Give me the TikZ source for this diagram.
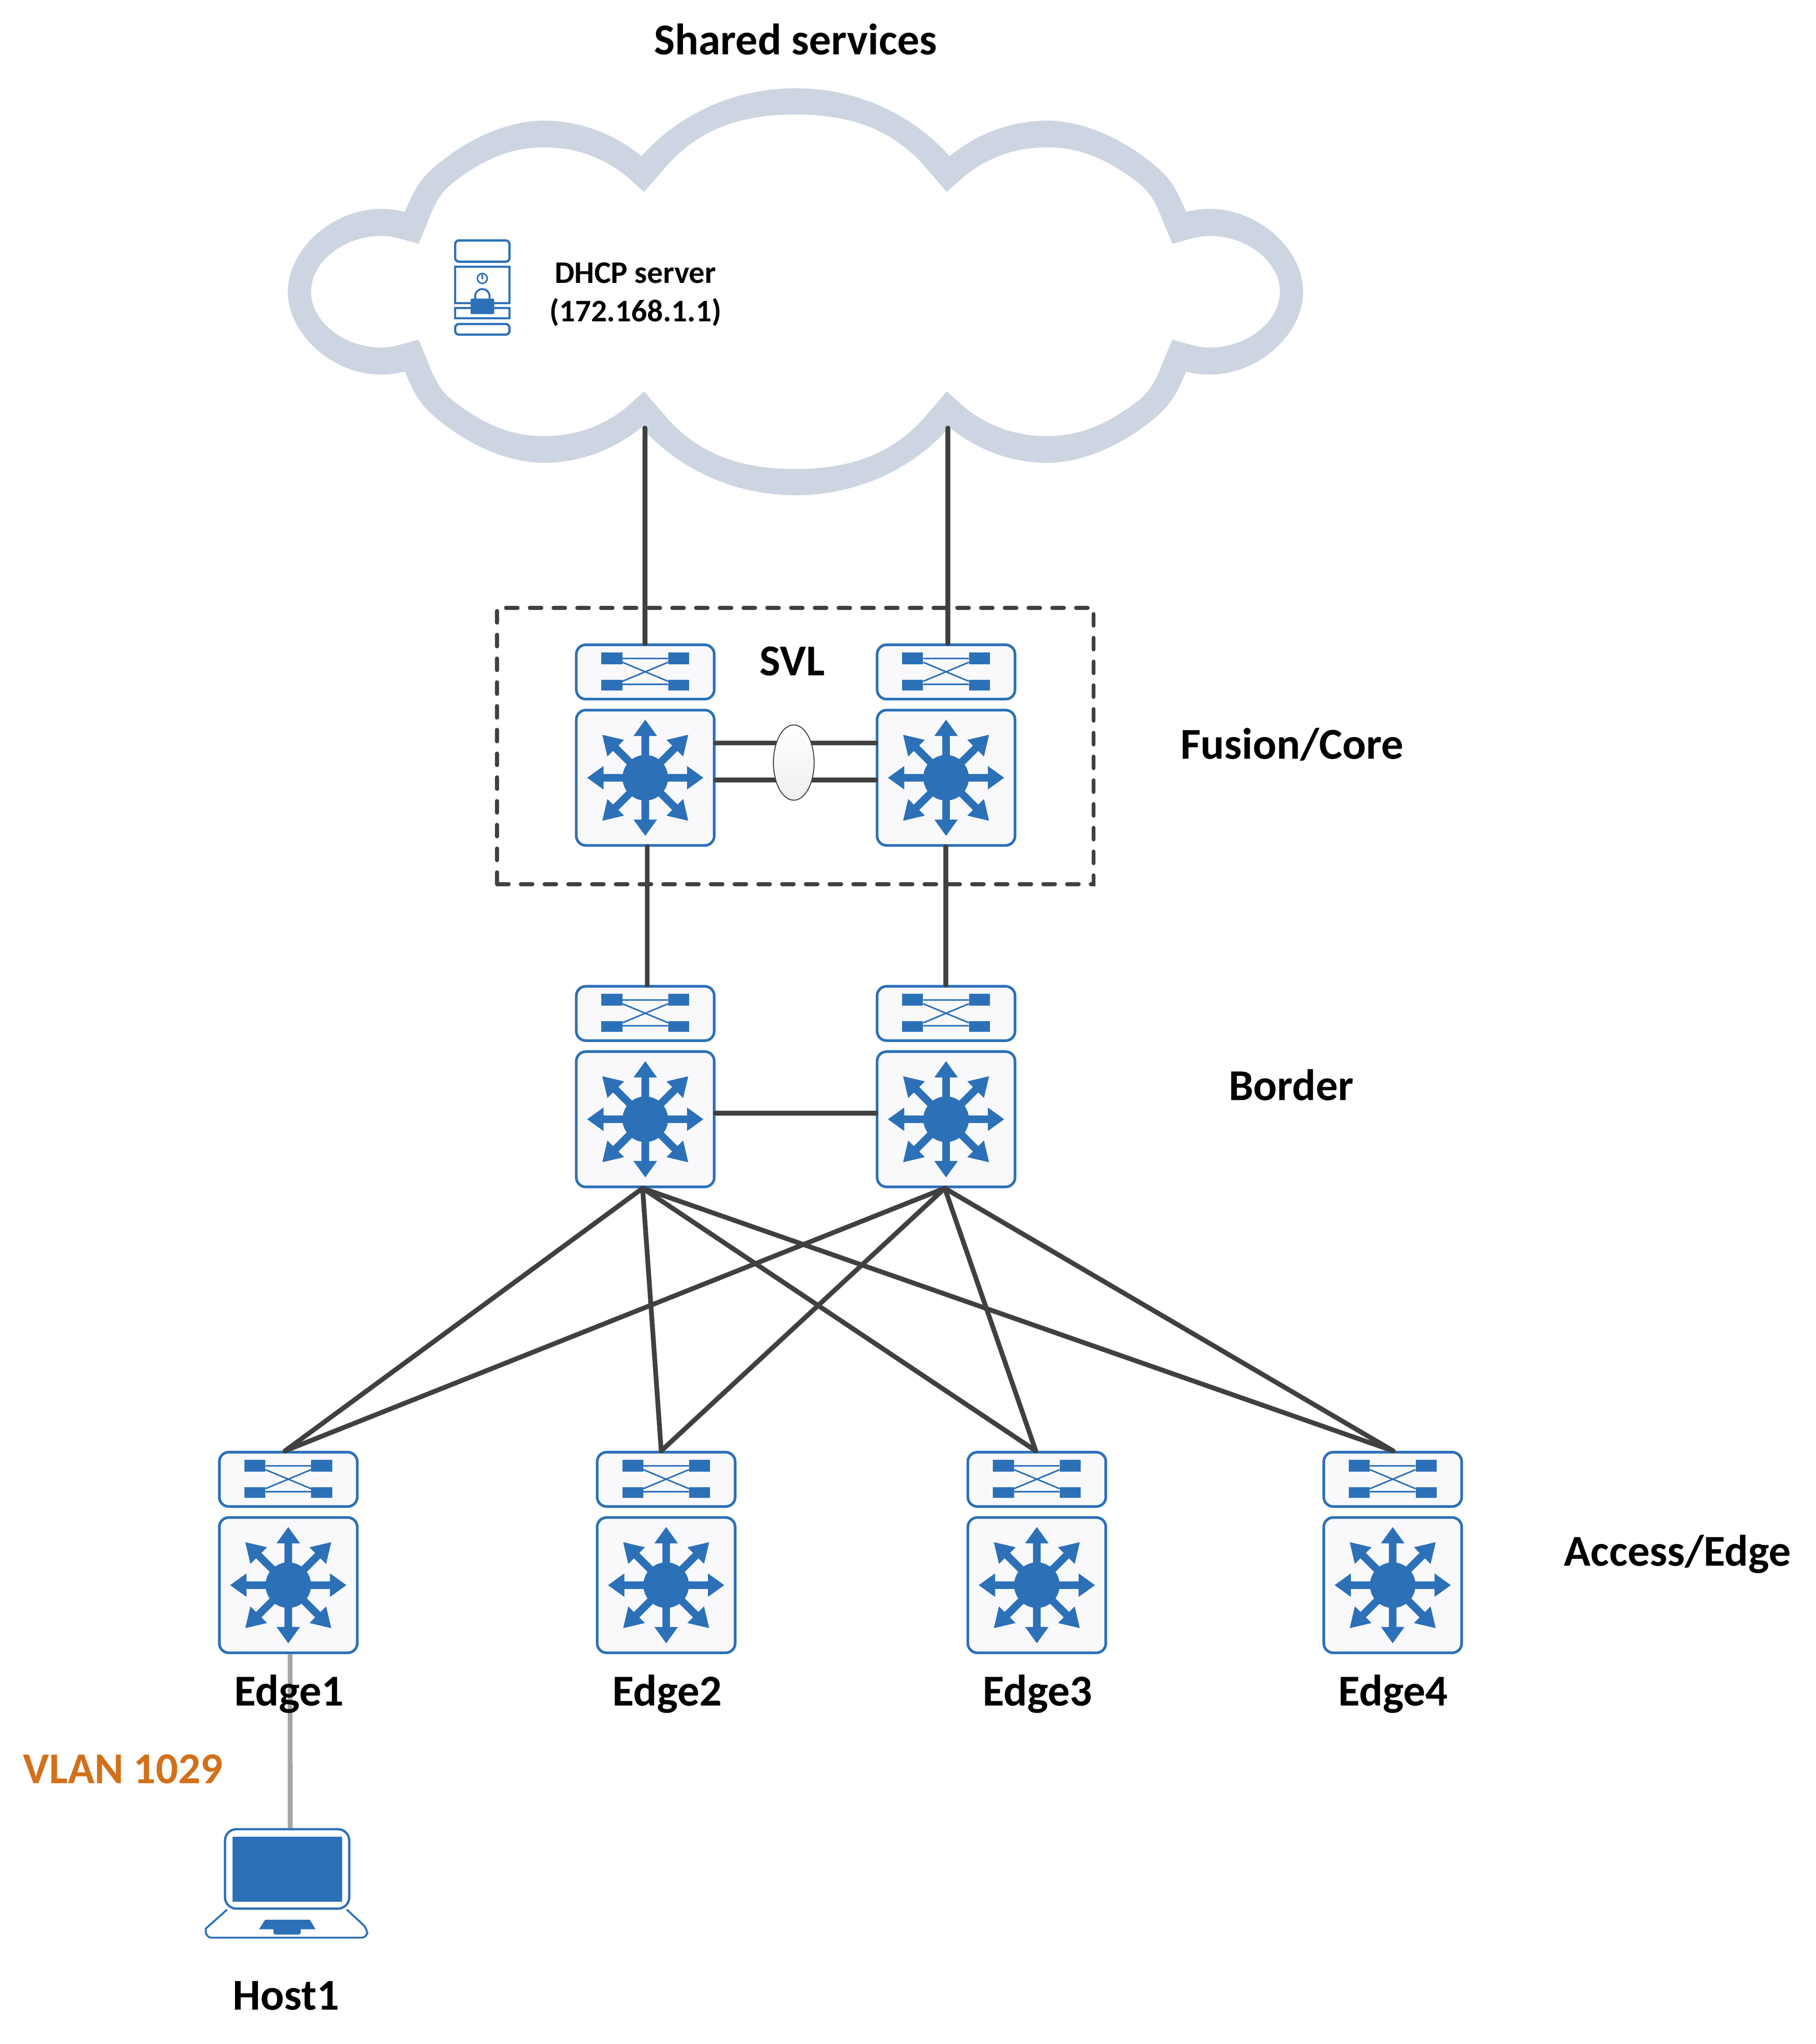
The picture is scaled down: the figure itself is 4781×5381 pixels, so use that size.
\documentclass[tikz,border=0pt]{standalone}
\usepackage{fontspec}
\setmainfont{Carlito}
\usetikzlibrary{shapes.geometric}
\definecolor{netblue}{HTML}{2C70B8}
\definecolor{boxfill}{HTML}{F9F9FB}
\definecolor{cloudblue}{HTML}{CED5E2}
\definecolor{linkdark}{HTML}{404040}
\definecolor{linkgray}{HTML}{A6A6A6}
\definecolor{vlanorange}{HTML}{D2701C}
\tikzset{
	devbox/.style={draw=netblue,fill=boxfill,line width=0.07cm,rounded corners=0.25cm,minimum width=3.63cm,inner sep=0pt},
	link/.style={draw=linkdark,line width=0.125cm,line cap=round},
	biglabel/.style={font=\bfseries\fontsize{33}{40}\selectfont,anchor=base},
	smalllabel/.style={font=\bfseries\fontsize{23.5}{29}\selectfont,align=center},
	pics/l3switch/.style={code={
		\node[devbox,minimum height=3.56cm] (body) at (0,0) {};
		\node[devbox,minimum height=1.43cm] (top) at (0,-278.5) {};
		\foreach \a/\t in {0/153,45/160,90/153,135/160,180/153,225/160,270/153,315/160}
		\fill[netblue,rotate=\a] (0,-10) -- (110,-10) -- (110,-31) -- (\t,0) -- (110,31) -- (110,10) -- (0,10) -- cycle;
		\fill[netblue] (0,0) circle (60);
		\foreach \s in {-1,1} {
			\fill[netblue] (\s*60.5,-330) rectangle (\s*115.5,-299);
			\fill[netblue] (\s*60.5,-258) rectangle (\s*115.5,-230);
		}
		\draw[netblue,line width=0.04cm] (-60,-314)--(60,-314) (-60,-246)--(60,-246) (-60,-304)--(60,-254) (-60,-254)--(60,-304);
	}}
}
\begin{document}
\begin{tikzpicture}[x=0.01cm,y=-0.01cm]
	\useasboundingbox (0,0) rectangle (4781,5381);
	\foreach \sx/\sy in {1/0.857,-1/0.857,1/-0.857,-1/-0.857}
	\fill[cloudblue,shift={(2094.5,768)},xscale=\sx,yscale=\sy] (3,-625) -- (0,-625)
		.. controls (-164.5,-625) and (-309.5,-542.5) .. (-405.5,-416.5)
		.. controls (-474.5,-482.5) and (-564.5,-525.5) .. (-662.5,-525.5)
		.. controls (-764.5,-525.5) and (-874.5,-462.5) .. (-957.5,-376.5)
		.. controls (-994.5,-337.5) and (-1009.5,-297.5) .. (-1028.5,-245.5)
		.. controls (-1049.5,-251.5) and (-1069.5,-254.5) .. (-1090.5,-254.5)
		.. controls (-1220,-254.5) and (-1336.5,-130) .. (-1336.5,0) -- (-1336.5,3) -- (-1275.5,3) -- (-1275.5,0)
		.. controls (-1275.5,-92) and (-1189,-171.5) .. (-1090.5,-171.5)
		.. controls (-1074,-171.5) and (-1059,-168) .. (-1046.5,-164.5) -- (-992.5,-147.5) -- (-970.5,-207.5)
		.. controls (-949.5,-272.5) and (-934.5,-307.5) .. (-894.5,-341.5)
		.. controls (-824.5,-402.5) and (-754.5,-443.5) .. (-662.5,-443.5)
		.. controls (-584.5,-443.5) and (-514.5,-417.5) .. (-448.5,-358.5) -- (-398.5,-306.5) -- (-349.5,-372.5)
		.. controls (-264.5,-492.5) and (-154.5,-544.5) .. (0,-544.5) -- (3,-544.5) -- cycle;
	\coordinate (cloudl) at (1698,1127);
	\coordinate (cloudr) at (2496,1127);
	\draw[netblue,line width=0.06cm,rounded corners=0.1cm] (1198.5,689) -- (1198.5,633) -- (1341.5,633) -- (1341.5,689) -- cycle;
	\draw[netblue,line width=0.06cm] (1198.5,702) rectangle (1341.5,798);
	\draw[netblue,line width=0.06cm] (1198.5,811) rectangle (1341.5,838);
	\draw[netblue,line width=0.06cm,rounded corners=0.1cm] (1198.5,853) -- (1198.5,881) -- (1341.5,881) -- (1341.5,853) -- cycle;
	\draw[netblue,line width=0.04cm] (1270,733) circle (13) (1270,723) -- (1270,735);
	\draw[netblue,line width=0.05cm] (1251,786) -- (1251,780) arc (180:360:19) -- (1289,786);
	\fill[netblue,rounded corners=0.03cm] (1239,786) rectangle (1301,827);
	\node[smalllabel] (dhcp) at (1673,775) {DHCP server\\(172.168.1.1)};
	\node[draw=linkdark,line width=0.1cm,dash pattern=on 0.31cm off 0.315cm,line cap=round,minimum width=15.7cm,minimum height=7.27cm,inner sep=0pt] (svl) at (2094,1964) {};
	\foreach \n/\x/\y in {core1/1699/2047.5,core2/2491/2047.5,brd1/1699/2946.5,brd2/2491/2946.5,edge1/759/4173,edge2/1754/4173,edge3/2730/4173,edge4/3667/4173}
	\pic (\n) at (\x,\y) {l3switch};
	\node[draw=netblue,fill=white,line width=0.06cm,rounded corners=0.3cm,minimum width=3.27cm,minimum height=2.09cm,inner sep=0pt] (host) at (756,4920) {};
	\fill[netblue] (612,4835) rectangle (901,5006);
	\draw[netblue,line width=0.05cm] (598,5027) -- (542,5077) [rounded corners=0.15cm] -- (542,5101) -- (967,5101) -- (967,5077) [sharp corners] -- (913,5027);
	\fill[netblue] (698,5054) -- (816,5054) -- (831,5079) -- (682,5079) -- cycle;
	\fill[netblue,rounded corners=0.06cm] (720,5070) rectangle (792,5093);
	\draw[draw=linkgray,line width=0.125cm] ([xshift=1.4pt]edge1body.south) -- ([xshift=2.3pt]host.north);
	\node[biglabel] (shared) at (2095,144) {Shared services};
	\node[biglabel] (svllabel) at (2086,1778) {SVL};
	\node[biglabel] (fusion) at (3402,1998) {Fusion/Core};
	\node[biglabel] (border) at (3400,2897) {Border};
	\node[biglabel] (access) at (4417,4122) {Access/Edge};
	\node[biglabel] (label1) at (761,4490) {Edge1};
	\node[biglabel] (label2) at (1757,4490) {Edge2};
	\node[biglabel] (label3) at (2732,4490) {Edge3};
	\node[biglabel] (label4) at (3668,4490) {Edge4};
	\node[biglabel] (hostlabel) at (753,5291) {Host1};
	\node[biglabel,text=vlanorange] (vlan) at (324,4695) {VLAN 1029};
	\draw[link] (cloudl) -- (cloudl |- core1top.north);
	\draw[link] (cloudr) -- (cloudr |- core2top.north);
	\draw[link] ([yshift=26pt]core1body.east) -- ([yshift=26pt]core2body.west);
	\draw[link] ([yshift=-1.6pt]core1body.east) -- ([yshift=-1.6pt]core2body.west);
	\node[ellipse,draw=linkdark,line width=0.025cm,top color=white,bottom color=black!6,minimum width=1.07cm,minimum height=1.98cm,inner sep=0pt] (lag) at (2090,2007.5) {};
	\draw[link] ([xshift=1.5pt]core1body.south) -- ([xshift=1.5pt]brd1top.north);
	\draw[link] ([xshift=-0.2pt]core2body.south) -- ([xshift=-0.2pt]brd2top.north);
	\draw[link] ([yshift=4.5pt]brd1body.east) -- ([yshift=4.5pt]brd2body.west);
	\foreach \s/\o in {brd1/-2,brd2/-1}
	\foreach \e/\d in {edge1/-2.4,edge2/-3.7,edge3/-0.8,edge4/0.3}
	\draw[link] ([xshift=\o pt]\s body.south) -- ([xshift=\d pt]\e top.north);
\end{tikzpicture}
\end{document}
